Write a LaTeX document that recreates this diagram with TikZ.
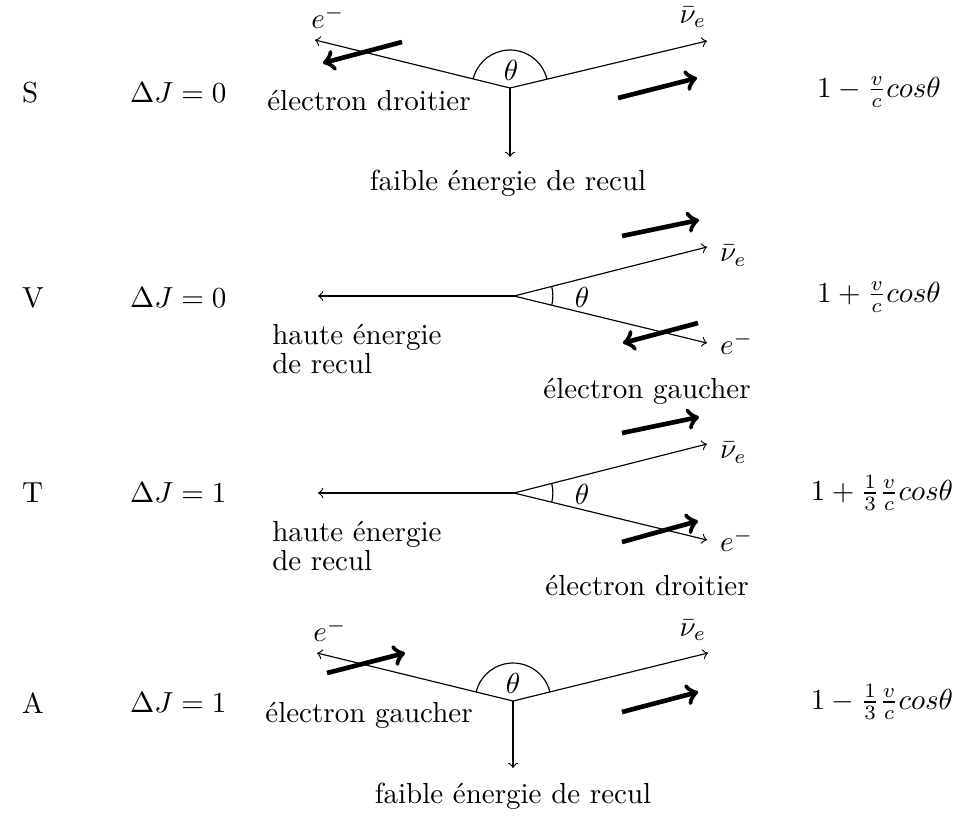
\documentclass[tikz,border=0pt]{standalone}
\usetikzlibrary{angles}
\begin{document}
\begin{tikzpicture}[x=0.3448pt,y=-0.3448pt,
  spin/.style={->, line width=1.6pt},
  angS/.style={draw, angle radius=13.1pt},
  angV/.style={draw, angle radius=13.4pt}]
\useasboundingbox (0,0) rectangle (954,816);

% ---------- Row S ----------
\node[anchor=west] (lS) at (12,93) {S};
\node[anchor=west] (jS) at (120,93) {$\Delta J = 0$};
\coordinate (v1) at (510,88);
\coordinate (e1) at (315,40);
\coordinate (n1) at (707,41);
\coordinate (r1) at (510,157);
\draw[->] (v1) -- (e1);
\draw[->] (v1) -- (n1);
\draw[->] (v1) -- (r1);
\pic[angS] {angle = n1--v1--e1};
\node (th1) at (511,70) {$\theta$};
\node (el1) at (328,17) {$e^-$};
\node (nl1) at (693,17) {$\bar{\nu}_e$};
\node[anchor=base] (d1) at (369,110) {électron droitier};
\node[anchor=base] (f1) at (508,190) {faible énergie de recul};
\coordinate (a1s) at (402,42); \coordinate (a1e) at (323,63);
\draw[spin] (a1s) -- (a1e);
\coordinate (b1s) at (618,98); \coordinate (b1e) at (697,78);
\draw[spin] (b1s) -- (b1e);
\node (fm1) at (879,92) {$1-\frac{v}{c}cos\theta$};

% ---------- Row V ----------
\node[anchor=west] (lV) at (12,298) {V};
\node[anchor=west] (jV) at (120,298) {$\Delta J = 0$};
\coordinate (v2) at (514,296);
\coordinate (l2) at (318,296);
\coordinate (n2) at (707,247);
\coordinate (e2) at (707,343);
\draw[->] (v2) -- (l2);
\draw[->] (v2) -- (n2);
\draw[->] (v2) -- (e2);
\pic[angV] {angle = e2--v2--n2};
\node (th2) at (582,297) {$\theta$};
\node[anchor=west] (nl2) at ([xshift=1pt,yshift=-3pt]n2) {$\bar{\nu}_e$};
\node[anchor=west] (el2) at ([xshift=1pt]e2) {$e^-$};
\node[anchor=west, align=left] (h2) at (262,349) {haute énergie\\[-2pt]de recul};
\node[anchor=base] (g2) at (647,398) {électron gaucher};
\coordinate (a2s) at (622,236); \coordinate (a2e) at (699,220);
\draw[spin] (a2s) -- (a2e);
\coordinate (b2s) at (698,323); \coordinate (b2e) at (623,343);
\draw[spin] (b2s) -- (b2e);
\node (fm2) at (879,297) {$1+\frac{v}{c}cos\theta$};

% ---------- Row T ----------
\node[anchor=west] (lT) at (12,493) {T};
\node[anchor=west] (jT) at (120,493) {$\Delta J = 1$};
\coordinate (v3) at (514,493);
\coordinate (l3) at (318,493);
\coordinate (n3) at (707,444);
\coordinate (e3) at (707,540);
\draw[->] (v3) -- (l3);
\draw[->] (v3) -- (n3);
\draw[->] (v3) -- (e3);
\pic[angV] {angle = e3--v3--n3};
\node (th3) at (582,494) {$\theta$};
\node[anchor=west] (nl3) at ([xshift=1pt,yshift=-3pt]n3) {$\bar{\nu}_e$};
\node[anchor=west] (el3) at ([xshift=1pt]e3) {$e^-$};
\node[anchor=west, align=left] (h3) at (262,546) {haute énergie\\[-2pt]de recul};
\node[anchor=base] (g3) at (647,595) {électron droitier};
\coordinate (a3s) at (622,433); \coordinate (a3e) at (699,417);
\draw[spin] (a3s) -- (a3e);
\coordinate (b3s) at (622,542); \coordinate (b3e) at (698,521);
\draw[spin] (b3s) -- (b3e);
\node (fm3) at (882,493) {$1+\frac{1}{3}\frac{v}{c}cos\theta$};

% ---------- Row A ----------
\node[anchor=west] (lA) at (12,703) {A};
\node[anchor=west] (jA) at (120,703) {$\Delta J = 1$};
\coordinate (v4) at (513,701);
\coordinate (e4) at (317,653);
\coordinate (n4) at (708,653);
\coordinate (r4) at (513,768);
\draw[->] (v4) -- (e4);
\draw[->] (v4) -- (n4);
\draw[->] (v4) -- (r4);
\pic[angS] {angle = n4--v4--e4};
\node (th4) at (513,683) {$\theta$};
\node (el4) at (330,630) {$e^-$};
\node (nl4) at (693,630) {$\bar{\nu}_e$};
\node[anchor=base] (d4) at (369,722) {électron gaucher};
\node[anchor=base] (f4) at (513,803) {faible énergie de recul};
\coordinate (a4s) at (327,673); \coordinate (a4e) at (405,653);
\draw[spin] (a4s) -- (a4e);
\coordinate (b4s) at (622,712); \coordinate (b4e) at (698,692);
\draw[spin] (b4s) -- (b4e);
\node (fm4) at (882,702) {$1-\frac{1}{3}\frac{v}{c}cos\theta$};
\end{tikzpicture}
\end{document}
